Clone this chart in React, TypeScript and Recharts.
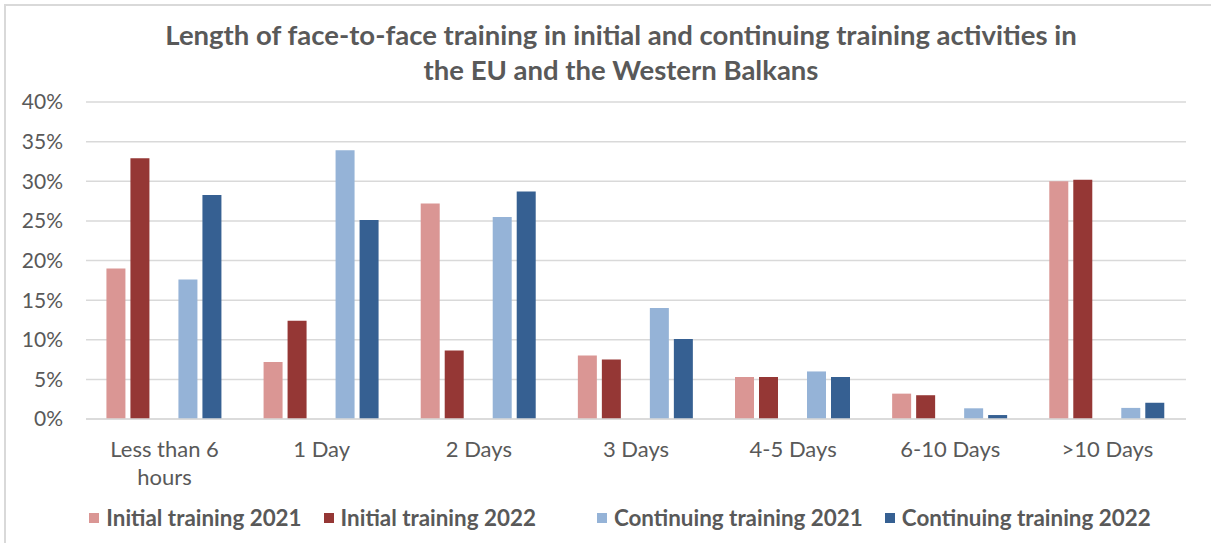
import { BarChart, Bar, XAxis, YAxis, CartesianGrid } from 'recharts';

// Excel-ish palette
const GREY_TEXT = '#595959';
const GRID = '#d9d9d9';

const categories = ['Less than 6 hours', '1 Day', '2 Days', '3 Days', '4-5 Days', '6-10 Days', '>10 Days'];
const initial2021 = [19.0, 7.2, 27.2, 8.0, 5.3, 3.2, 30.0];
const initial2022 = [32.9, 12.4, 8.65, 7.5, 5.3, 3.0, 30.2];
const continuing2021 = [17.6, 33.9, 25.5, 14.0, 6.0, 1.35, 1.4];
const continuing2022 = [28.25, 25.1, 28.7, 10.1, 5.3, 0.5, 2.05];
const yTicks = [0, 5, 10, 15, 20, 25, 30, 35, 40];

const series = [
  { key: 'i21', name: 'Initial training 2021', color: '#DA9694', values: initial2021 },
  { key: 'i22', name: 'Initial training 2022', color: '#953735', values: initial2022 },
  { key: 'gap', name: '', color: 'transparent', values: [] as number[] },
  { key: 'c21', name: 'Continuing training 2021', color: '#95B3D7', values: continuing2021 },
  { key: 'c22', name: 'Continuing training 2022', color: '#366092', values: continuing2022 },
];

const data = categories.map((c, i) => {
  const row: Record<string, string | number | undefined> = { name: c };
  series.forEach(s => {
    row[s.key] = s.values[i];
  });
  return row;
});

const FONT = 'Lato, "DejaVu Sans", sans-serif';

function CategoryTick(props: any) {
  const { x, y, payload } = props;
  const label: string = payload.value;
  const lines = label === 'Less than 6 hours' ? ['Less than 6', 'hours'] : [label];
  return (
    <text x={x} y={y + 38} textAnchor="middle" fill={GREY_TEXT} fontSize={22} fontFamily={FONT}>
      {lines.map((l, i) => (
        <tspan key={i} x={x} dy={i === 0 ? 0 : 28}>
          {l}
        </tspan>
      ))}
    </text>
  );
}

export default function App() {
  return (
    <div
      style={{
        position: 'absolute',
        left: 0,
        top: 0,
        width: 1211,
        height: 543,
        background: '#fff',
        fontFamily: FONT,
        overflow: 'hidden',
      }}
    >
      <div
        style={{
          position: 'absolute',
          left: 4,
          top: 4,
          width: 1220,
          height: 560,
          borderLeft: `2px solid ${GRID}`,
          borderTop: `2px solid ${GRID}`,
        }}
      />
      <div
        style={{
          position: 'absolute',
          left: 0,
          width: 1242,
          top: 17,
          textAlign: 'center',
          color: GREY_TEXT,
          fontWeight: 700,
          fontSize: 27.5,
          lineHeight: '35px',
        }}
      >
        Length of face-to-face training in initial and continuing training activities in
        <br />
        the EU and the Western Balkans
      </div>
      <div style={{ position: 'absolute', left: 0, top: 0 }}>
        <BarChart
          width={1211}
          height={543}
          data={data}
          margin={{ top: 102, right: 25, left: 0, bottom: 94 }}
          barCategoryGap="13%"
          barGap={5}
        >
          <CartesianGrid vertical={false} stroke={GRID} strokeWidth={1.5} />
          <YAxis
            width={86}
            domain={[0, 40]}
            ticks={yTicks}
            tickFormatter={(v: number) => `${v}%`}
            axisLine={false}
            tickLine={false}
            tickSize={0}
            tickMargin={23}
            tick={{ fill: GREY_TEXT, fontSize: 21, fontFamily: FONT }}
          />
          <XAxis
            dataKey="name"
            height={30}
            axisLine={{ stroke: GRID, strokeWidth: 1.5 }}
            tickLine={false}
            tickSize={0}
            tickMargin={0}
            interval={0}
            tick={<CategoryTick />}
          />
          {series.map(s => (
            <Bar key={s.key} dataKey={s.key} name={s.name} fill={s.color} isAnimationActive={false} />
          ))}
        </BarChart>
      </div>
      <div
        style={{
          position: 'absolute',
          left: 0,
          width: 1240,
          top: 504,
          display: 'flex',
          justifyContent: 'center',
          alignItems: 'center',
          color: GREY_TEXT,
          fontWeight: 700,
          fontSize: 22.4,
        }}
      >
        {series.map(s =>
          s.name ? (
            <div key={s.key} style={{ display: 'flex', alignItems: 'center', margin: '0 11px' }}>
              <span style={{ width: 10, height: 10, background: s.color, marginRight: 7 }} />
              <span>{s.name}</span>
            </div>
          ) : (
            <div key={s.key} style={{ width: 39 }} />
          )
        )}
      </div>
    </div>
  );
}
